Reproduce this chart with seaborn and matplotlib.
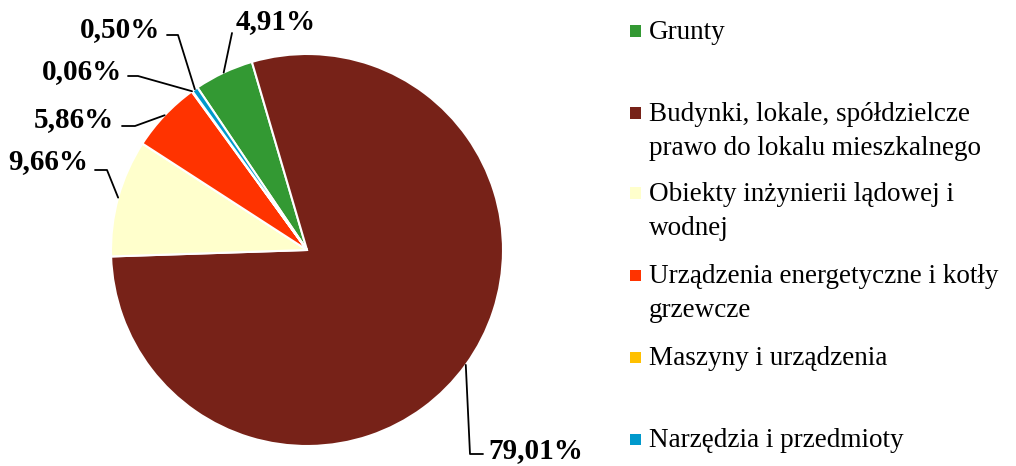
import matplotlib
matplotlib.use("Agg")
import matplotlib.pyplot as plt
import seaborn as sns
import numpy as np
from matplotlib.patches import Rectangle

# dane
categories = [
    "Grunty",
    "Budynki, lokale, spółdzielcze\nprawo do lokalu mieszkalnego",
    "Obiekty inżynierii lądowej i\nwodnej",
    "Urządzenia energetyczne i kotły\ngrzewcze",
    "Maszyny i urządzenia",
    "Narzędzia i przedmioty",
]
shares = [4.91, 79.01, 9.66, 5.86, 0.06, 0.50]
pct_labels = ["4,91%", "79,01%", "9,66%", "5,86%", "0,06%", "0,50%"]
colors = ["#339933", "#772218", "#FFFFCC", "#FF3300", "#FFC000", "#0099CC"]

sns.set_theme(style="white")
plt.rcParams['font.family'] = ['Liberation Serif', 'DejaVu Serif']

W, H = 1016, 466
cx, cy, r = 307, 250, 196  # środek i promień koła w pikselach

fig = plt.figure(figsize=(W / 100, H / 100), dpi=100)
ax = fig.add_axes([(cx - r) / W, (H - cy - r) / H, 2 * r / W, 2 * r / H])

wedges, _ = ax.pie(shares, colors=colors, startangle=124, counterclock=False,
                   radius=1, wedgeprops=dict(edgecolor="white", linewidth=1.5))
ax.set_xlim(-1, 1)
ax.set_ylim(-1, 1)
ax.axis("off")


def px(x, y):
    # piksele obrazka -> współrzędne osi
    return (x - cx) / r, (cy - y) / r


# położenie etykiet: (tekst x, tekst y, ha, łokieć, koniec linii)
layout = [
    ((236, 22), "left", (232, 33), None),
    ((488, 451), "left", (470, 454), (483, 454)),
    ((88, 162), "right", (107, 170), (95, 170)),
    ((114, 120), "right", (135, 126), (122, 126)),
    ((122, 72), "right", (138, 76), (128, 76)),
    ((160, 30), "right", (178, 35), (167, 35)),
]

for w, lab, (tpos, ha, elbow, end) in zip(wedges, pct_labels, layout):
    mid = np.deg2rad((w.theta1 + w.theta2) / 2)
    pts = [(np.cos(mid), np.sin(mid)), px(*elbow)]
    if end is not None:
        pts.append(px(*end))
    xs, ys = zip(*pts)
    ax.plot(xs, ys, color="black", lw=1.3, clip_on=False)
    tx, ty = px(*tpos)
    ax.text(tx, ty, lab, ha=ha, va="center", fontsize=21, fontweight="bold",
            color="black", clip_on=False)

# legenda
leg_y = [31, 113, 193, 275, 357, 439]
for cat, col, y in zip(categories, colors, leg_y):
    fig.add_artist(Rectangle((630 / W, (H - y - 5.5) / H), 11 / W, 11 / H,
                             transform=fig.transFigure, facecolor=col,
                             edgecolor="none"))
    fig.text(649 / W, (H - y + 11) / H, cat, ha="left", va="top",
             fontsize=19.5, linespacing=1.45, color="black")

fig.savefig("out.png", dpi=100, facecolor="white")
